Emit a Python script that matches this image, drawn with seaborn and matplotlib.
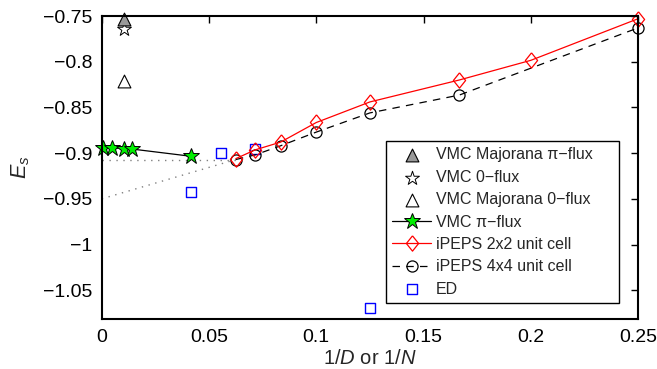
import matplotlib
matplotlib.use("Agg")
import matplotlib.pyplot as plt
import seaborn as sns

# ---- data -------------------------------------------------------------
# VMC single points (x = 1/N)
vmc_maj_pi_x = [0.0104]
vmc_maj_pi_y = [-0.7535]
vmc_zero_x = [0.0104]
vmc_zero_y = [-0.7645]
vmc_maj_zero_x = [0.0104]
vmc_maj_zero_y = [-0.8215]

# VMC pi-flux series
vmc_pi_x = [0.0007, 0.0046, 0.0104, 0.0139, 0.0417]
vmc_pi_y = [-0.8940, -0.8942, -0.8950, -0.8955, -0.9035]

# iPEPS with 2x2 unit cell (x = 1/D)
ipeps2_x = [1/16, 1/14, 1/12, 1/10, 1/8, 1/6, 1/5, 1/4]
ipeps2_y = [-0.9060, -0.8965, -0.8880, -0.8665, -0.8440, -0.8200, -0.7985, -0.7530]

# iPEPS with 4x4 unit cell
ipeps4_x = [1/16, 1/14, 1/12, 1/10, 1/8, 1/6, 1/4]
ipeps4_y = [-0.9070, -0.9020, -0.8920, -0.8770, -0.8560, -0.8365, -0.7630]

# exact diagonalization
ed_x = [1/24, 1/18, 1/14, 1/8]
ed_y = [-0.9430, -0.9000, -0.8955, -1.0700]

# extrapolations of the iPEPS data to 1/D -> 0
extrap_flat_x = [0.0, 1/16]
extrap_flat_y = [-0.9070, -0.9070]
extrap_lin_x = [0.0, 1/16]
extrap_lin_y = [-0.9500, -0.9070]

x_ticks = [0, 0.05, 0.1, 0.15, 0.2, 0.25]
x_tick_labels = ["0", "0.05", "0.1", "0.15", "0.2", "0.25"]
y_ticks = [-1.05, -1.0, -0.95, -0.9, -0.85, -0.8, -0.75]
y_tick_labels = ["\u22121.05", "\u22121", "\u22120.95", "\u22120.9", "\u22120.85", "\u22120.8", "\u22120.75"]

# ---- style ------------------------------------------------------------
sns.set_style("white")
plt.rcParams["font.family"] = ["Liberation Sans", "DejaVu Sans"]
plt.rcParams["mathtext.fontset"] = "custom"
plt.rcParams["mathtext.rm"] = "Liberation Sans"
plt.rcParams["mathtext.it"] = "Liberation Sans:italic"

# slightly elongated diamond marker
tall_diamond = [(0, 1), (0.8, 0), (0, -1), (-0.8, 0), (0, 1)]

fig = plt.figure(figsize=(6.57, 3.69), dpi=100)
ax = fig.add_axes([0.155, 0.1355, 0.8161, 0.8211])

# dotted extrapolation lines
sns.lineplot(x=extrap_flat_x, y=extrap_flat_y, ax=ax, color="#808080",
             linestyle=(0, (1, 4)), linewidth=1.0, legend=False)
sns.lineplot(x=extrap_lin_x, y=extrap_lin_y, ax=ax, color="#808080",
             linestyle=(0, (1, 4)), linewidth=1.0, legend=False)

# iPEPS 4x4 (dashed black, open circles)
sns.lineplot(x=ipeps4_x, y=ipeps4_y, ax=ax, sort=False, color="black",
             linewidth=0.9, marker="o", markersize=8,
             markerfacecolor="none", markeredgecolor="black",
             markeredgewidth=0.9, label="iPEPS 4x4 unit cell", clip_on=False)
ax.lines[-1].set_linestyle((0, (6, 5)))

# iPEPS 2x2 (solid red, open diamonds)
sns.lineplot(x=ipeps2_x, y=ipeps2_y, ax=ax, sort=False, color="red",
             linewidth=0.9, marker=tall_diamond, markersize=11,
             markerfacecolor="none", markeredgecolor="red",
             markeredgewidth=0.9, label="iPEPS 2x2 unit cell", clip_on=False)

# VMC pi-flux (black line, green stars)
sns.lineplot(x=vmc_pi_x, y=vmc_pi_y, ax=ax, sort=False, color="black",
             linewidth=0.9, marker="*", markersize=12,
             markerfacecolor="#00ee00", markeredgecolor="black",
             markeredgewidth=0.7, label="VMC \u03c0\u2212flux", clip_on=False)

# ED (blue open squares)
sns.scatterplot(x=ed_x, y=ed_y, ax=ax, marker="s", s=52,
                facecolor="none", edgecolor="#0000ff", linewidth=1.0,
                label="ED", clip_on=False)

# VMC single points
sns.scatterplot(x=vmc_maj_zero_x, y=vmc_maj_zero_y, ax=ax, marker="^", s=85,
                facecolor="white", edgecolor="black", linewidth=0.8,
                label="VMC Majorana 0\u2212flux", clip_on=False)
sns.scatterplot(x=vmc_zero_x, y=vmc_zero_y, ax=ax, marker="*", s=110,
                facecolor="white", edgecolor="black", linewidth=0.7,
                label="VMC 0\u2212flux", clip_on=False)
sns.scatterplot(x=vmc_maj_pi_x, y=vmc_maj_pi_y, ax=ax, marker="^", s=85,
                facecolor="#999999", edgecolor="black", linewidth=0.8,
                label="VMC Majorana \u03c0\u2212flux", clip_on=False)

# ---- axes -------------------------------------------------------------
ax.set_xlim(0, 0.25)
ax.set_ylim(-1.0815, -0.75)
ax.set_xticks(x_ticks)
ax.set_xticklabels(x_tick_labels)
ax.set_yticks(y_ticks)
ax.set_yticklabels(y_tick_labels)
ax.tick_params(direction="in", length=5, width=1.0, top=True, right=True,
               labelsize=14, colors="black", pad=7)
for sp in ax.spines.values():
    sp.set_visible(True)
    sp.set_color("black")
    sp.set_linewidth(1.5)
    sp.set_zorder(5)
ax.set_xlabel("1/$D$ or 1/$N$", fontsize=14.5, labelpad=2)
ax.set_ylabel("$E_s$", fontsize=15.5, labelpad=8)

# legend in the desired order
handles, labels = ax.get_legend_handles_labels()
order = ["VMC Majorana \u03c0\u2212flux", "VMC 0\u2212flux",
         "VMC Majorana 0\u2212flux", "VMC \u03c0\u2212flux",
         "iPEPS 2x2 unit cell", "iPEPS 4x4 unit cell", "ED"]
hmap = dict(zip(labels, handles))
leg = ax.legend([hmap[k] for k in order], order, loc="lower left",
                bbox_to_anchor=(0.53, 0.053, 0.4346, 0.5345), mode="expand",
                fontsize=11.5, frameon=True,
                fancybox=False, edgecolor="black", handlelength=2.4,
                handletextpad=0.3, labelspacing=0.46, borderpad=0.4,
                borderaxespad=0)
leg.get_frame().set_linewidth(1.0)
leg.get_frame().set_alpha(1)
leg.set_zorder(10)

fig.savefig("out.png", dpi=100)
